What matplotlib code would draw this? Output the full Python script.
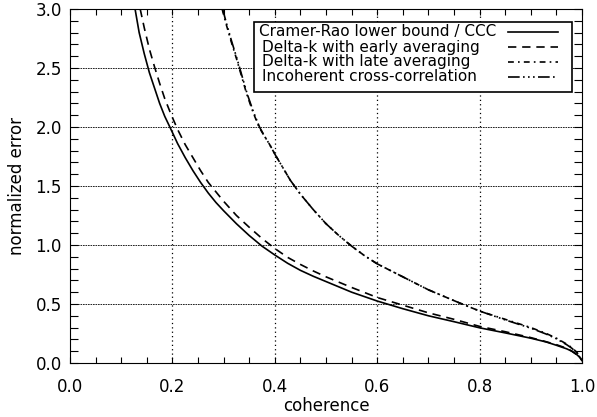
import matplotlib
matplotlib.use('Agg')
import matplotlib.pyplot as plt
from matplotlib.ticker import MultipleLocator
from matplotlib.patches import Rectangle

# values (coherence, normalized error)
crb_x = [0.127, 0.135, 0.145, 0.155, 0.165, 0.175, 0.185, 0.196, 0.21, 0.225, 0.24, 0.255, 0.27, 0.285,
         0.30, 0.325, 0.35, 0.375, 0.40, 0.425, 0.45, 0.475, 0.50, 0.55, 0.60, 0.65, 0.70, 0.75, 0.80, 0.85,
         0.90, 0.93, 0.95, 0.97, 0.98, 0.99, 0.995, 1.00]
crb_y = [3.0, 2.80, 2.62, 2.46, 2.33, 2.20, 2.09, 1.99, 1.86, 1.74, 1.63, 1.53, 1.44, 1.36,
         1.29, 1.18, 1.08, 0.99, 0.915, 0.845, 0.785, 0.735, 0.69, 0.60, 0.525, 0.46, 0.40, 0.35, 0.298,
         0.255, 0.21, 0.178, 0.15, 0.12, 0.10, 0.07, 0.05, 0.02]

early_x = [0.137, 0.145, 0.155, 0.165, 0.175, 0.185, 0.197, 0.21, 0.225, 0.24, 0.255, 0.27, 0.285,
           0.30, 0.325, 0.35, 0.375, 0.40, 0.425, 0.45, 0.475, 0.50, 0.55, 0.60, 0.65, 0.70, 0.75, 0.80,
           0.85, 0.90, 0.93, 0.95, 0.97, 0.98, 0.99, 0.995, 1.00]
early_y = [3.0, 2.84, 2.66, 2.51, 2.37, 2.24, 2.11, 1.98, 1.85, 1.74, 1.63, 1.53, 1.45,
           1.37, 1.25, 1.15, 1.055, 0.97, 0.895, 0.835, 0.78, 0.73, 0.64, 0.555, 0.49, 0.425, 0.37,
           0.31, 0.265, 0.215, 0.18, 0.155, 0.125, 0.10, 0.07, 0.05, 0.02]

late_x = [0.297, 0.305, 0.315, 0.325, 0.335, 0.345, 0.357, 0.369, 0.38, 0.39, 0.40, 0.415, 0.43, 0.45,
          0.475, 0.50, 0.525, 0.55, 0.575, 0.60, 0.65, 0.70, 0.76, 0.80, 0.85, 0.90, 0.93, 0.95,
          0.97, 0.98, 0.99, 1.00]
late_y = [3.0, 2.87, 2.72, 2.58, 2.43, 2.28, 2.13, 2.0, 1.92, 1.85, 1.77, 1.66, 1.55, 1.43,
          1.30, 1.18, 1.08, 0.99, 0.91, 0.84, 0.73, 0.62, 0.51, 0.44, 0.37, 0.30, 0.25, 0.21,
          0.16, 0.13, 0.09, 0.02]

incoh_x = [0.298, 0.306, 0.316, 0.326, 0.336, 0.346, 0.358, 0.37, 0.38, 0.39, 0.40, 0.415, 0.43, 0.45,
           0.475, 0.50, 0.525, 0.55, 0.575, 0.60, 0.65, 0.70, 0.76, 0.80, 0.85, 0.90, 0.93, 0.95,
           0.97, 0.98, 0.99, 1.00]
incoh_y = [3.0, 2.87, 2.72, 2.58, 2.43, 2.28, 2.13, 2.0, 1.92, 1.85, 1.77, 1.66, 1.55, 1.43,
           1.30, 1.18, 1.08, 0.99, 0.91, 0.84, 0.73, 0.62, 0.51, 0.44, 0.365, 0.295, 0.245, 0.205,
           0.155, 0.125, 0.085, 0.02]

labels = ['Cramer-Rao lower bound / CCC', 'Delta-k with early averaging',
          'Delta-k with late averaging', 'Incoherent cross-correlation']
styles = ['-', (0, (5, 3.5)), (0, (3.5, 2.5, 1, 2.5)), (0, (7, 2, 1, 2, 1, 2, 1, 2))]

plt.rcParams['font.family'] = ['DejaVu Sans']
fig = plt.figure(figsize=(5.97, 4.17), dpi=100)
ax = fig.add_axes([0.1173, 0.1295, 0.8577, 0.8490])

lw = 1.2
series = [(crb_x, crb_y), (early_x, early_y), (late_x, late_y), (incoh_x, incoh_y)]
for (xs, ys), ls in zip(series, styles):
    ax.plot(xs, ys, color='k', lw=lw, ls=ls)

ax.set_xlim(0, 1)
ax.set_ylim(0, 3)
ax.xaxis.set_major_locator(MultipleLocator(0.2))
ax.xaxis.set_minor_locator(MultipleLocator(0.05))
ax.yaxis.set_major_locator(MultipleLocator(0.5))
ax.yaxis.set_minor_locator(MultipleLocator(0.1))
ax.xaxis.set_major_formatter(plt.FormatStrFormatter('%.1f'))
ax.yaxis.set_major_formatter(plt.FormatStrFormatter('%.1f'))
ax.tick_params(which='both', direction='in', top=True, right=True, labelsize=12, width=0.8)
ax.tick_params(axis='x', which='both', length=4, pad=10.5)
ax.tick_params(axis='y', which='both', length=5.5, pad=6)

# grid: dotted verticals, fine dashed horizontals
for gx in [0.2, 0.4, 0.6, 0.8]:
    ax.axvline(gx, color='k', lw=0.9, ls=(0, (1, 2.5)), zorder=0)
for gy in [0.5, 1.0, 1.5, 2.0, 2.5]:
    ax.axhline(gy, color='k', lw=0.6, ls=(0, (2, 1)), zorder=0)

ax.set_xlabel('coherence', fontsize=12, labelpad=1)
ax.set_ylabel('normalized error', fontsize=12, labelpad=7)

# IDL-style legend: text on the left, line samples on the right
box = Rectangle((0.359, 0.765), 0.621, 0.197, transform=ax.transAxes, facecolor='white',
                edgecolor='k', lw=1.2, zorder=5)
ax.add_patch(box)
rows = [0.936, 0.892, 0.851, 0.809]
for i, (lab, ls) in enumerate(zip(labels, styles)):
    tx = 0.369 if i == 0 else 0.374
    ax.text(tx, rows[i], lab, transform=ax.transAxes, fontsize=11, va='center', ha='left', zorder=6)
    ax.plot([0.855, 0.953], [rows[i], rows[i]], transform=ax.transAxes, color='k', lw=lw, ls=ls,
            zorder=6, clip_on=False)

fig.savefig('out.png', dpi=100)
